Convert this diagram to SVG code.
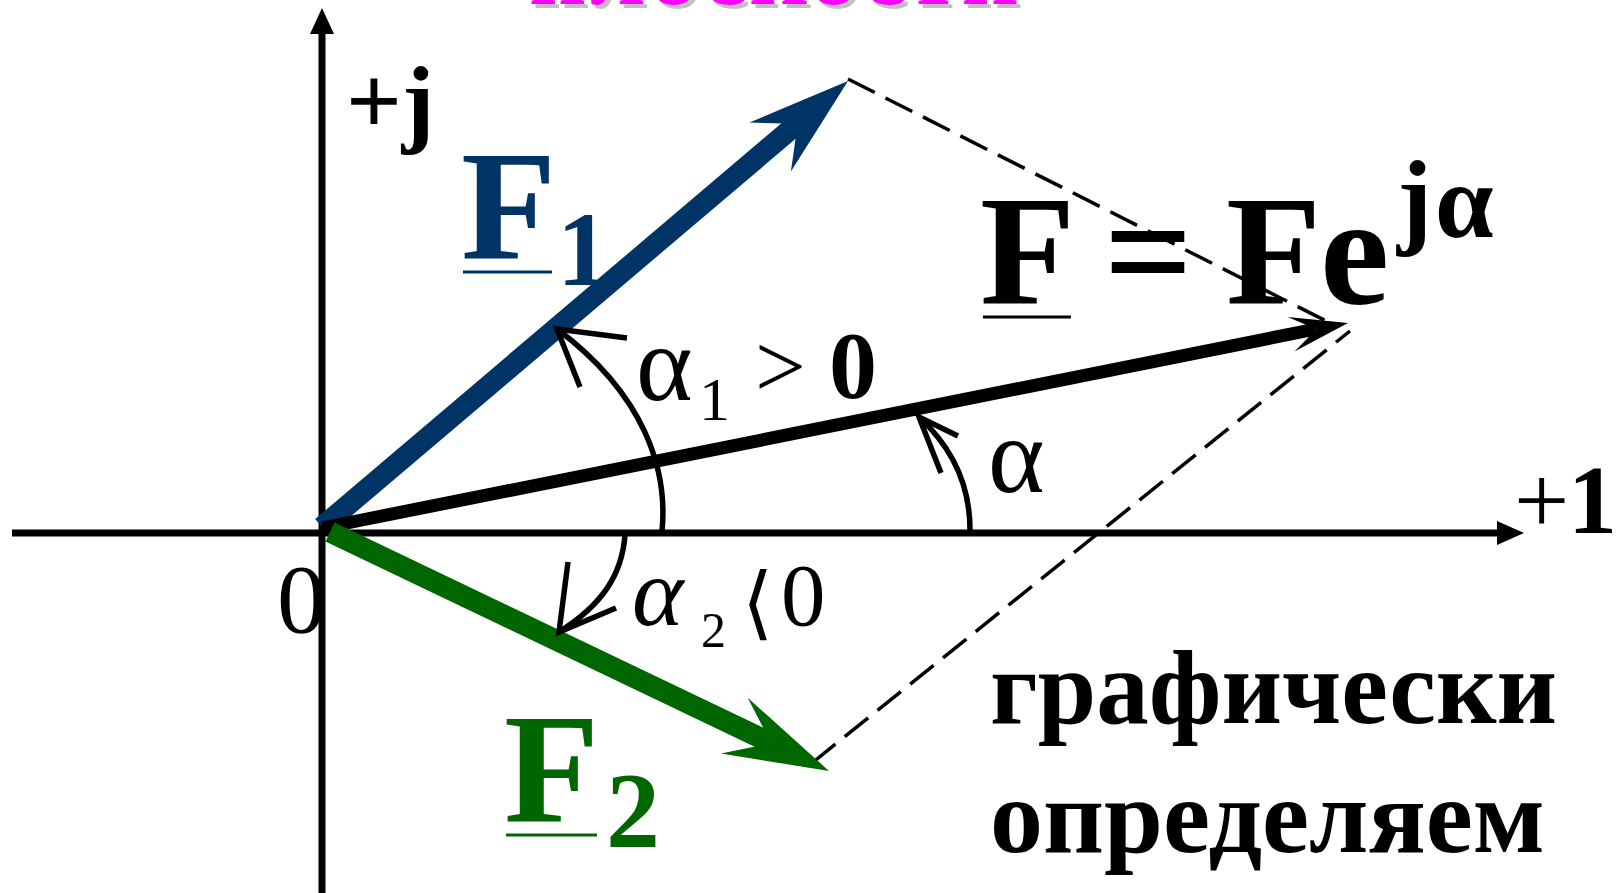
<svg xmlns="http://www.w3.org/2000/svg" width="1618" height="893" viewBox="0 0 1618 893">
<style>
.t{font-family:"Liberation Serif","Times New Roman",serif;}
.b{font-weight:bold;}
.arc{fill:none;stroke:#000;stroke-width:5.5;stroke-linecap:butt;}
.dash{fill:none;stroke:#000;stroke-width:3.5;stroke-dasharray:30 12;}
.axis{stroke:#000;stroke-width:7;}
</style>
<rect width="1618" height="893" fill="#fff"/>
<g id="title">
<text class="t b" x="533" y="8" font-size="100" fill="#C0C0C0" textLength="490" lengthAdjust="spacing">плоскости</text>
<text class="t b" x="529" y="4" font-size="100" fill="#FF00FF" textLength="490" lengthAdjust="spacing">плоскости</text>
</g>
<g id="axes">
<line class="axis" x1="322" y1="893" x2="322" y2="30"/>
<polygon points="322,8 310,34 334,34" fill="#000"/>
<line class="axis" x1="12" y1="533" x2="1502" y2="533"/>
<polygon points="1524,533 1497,521 1497,545" fill="#000"/>
</g>
<g id="connectors">
<line class="dash" x1="848" y1="79" x2="1334" y2="325"/>
<line class="dash" x1="812" y1="763" x2="1350" y2="331"/>
</g>
<g id="vector-F1">
<line x1="322" y1="527" x2="798" y2="123" stroke="#003366" stroke-width="21"/>
<polygon points="848,81 790.9,171.4 797.7,123.7 749.5,122.6" fill="#003366"/>
</g>
<g id="vector-F">
<line x1="322" y1="528" x2="1316" y2="329" stroke="#000" stroke-width="13"/>
<polygon points="1348,323 1294.5,351.5 1316.6,329.2 1287.7,317.1" fill="#000"/>
</g>
<g id="vector-F2">
<line x1="330" y1="532" x2="771" y2="743" stroke="#006600" stroke-width="21"/>
<polygon points="829,771 720.9,753.5 771.3,743.3 747.7,697.7" fill="#006600"/>
</g>
<g id="angle-alpha1">
<path class="arc" d="M662,531 C668,470 645,395 557,329"/>
<polyline class="arc" points="627,338 557,329 580,387"/>
</g>
<g id="angle-alpha">
<path class="arc" d="M970,530 C970,490 955,450 919,417"/>
<polyline class="arc" points="958,436 919,417 941,473"/>
</g>
<g id="angle-alpha2">
<path class="arc" d="M625,535 C622,575 602,605 559,632"/>
<polyline class="arc" points="568,562 559,632 616,608"/>
</g>
<g id="labels">
<text class="t b" x="346" y="134" font-size="98">+j</text>
<text class="t b" x="461" y="259" font-size="156" fill="#003366">F</text>
<line x1="463" y1="272" x2="552" y2="272" stroke="#003366" stroke-width="3"/>
<text class="t b" x="557" y="285" font-size="105" fill="#003366">1</text>
<text class="t b" x="980" y="304" font-size="156">F</text>
<line x1="983" y1="317" x2="1071" y2="317" stroke="#000" stroke-width="3"/>
<text class="t b" x="1104" y="304" font-size="156">=</text>
<text class="t b" x="1226" y="304" font-size="156">F</text>
<text class="t b" x="1320" y="304" font-size="156">e</text>
<text class="t b" x="1397" y="234" font-size="105">j</text>
<text class="t b" x="1435" y="237" font-size="105">α</text>
<text class="t" x="636" y="400" font-size="108">α</text>
<text class="t" x="699" y="420" font-size="62">1</text>
<text class="t" x="755" y="397" font-size="90">&gt;</text>
<text class="t b" x="829" y="398" font-size="96">0</text>
<text class="t" x="988" y="492" font-size="108">α</text>
<text class="t" x="1514" y="533" font-size="98">+</text>
<text class="t b" x="1568" y="533" font-size="98">1</text>
<text class="t" x="277" y="632" font-size="98">0</text>
<text class="t" x="632" y="625" font-size="98" font-style="italic">α</text>
<text class="t" x="701" y="647" font-size="50">2</text>
<text x="742" y="630" font-size="80" font-family="DejaVu Sans, sans-serif">⟨</text>
<text class="t" x="781" y="625" font-size="89">0</text>
<text class="t b" x="504" y="822" font-size="156" fill="#006600">F</text>
<line x1="506" y1="835" x2="597" y2="835" stroke="#006600" stroke-width="3"/>
<text class="t b" x="606" y="847" font-size="108" fill="#006600">2</text>
<text class="t b" x="990" y="723" font-size="106" textLength="567" lengthAdjust="spacingAndGlyphs">графически</text>
<text class="t b" x="990" y="852" font-size="106" textLength="555" lengthAdjust="spacingAndGlyphs">определяем</text>
</g>
</svg>
